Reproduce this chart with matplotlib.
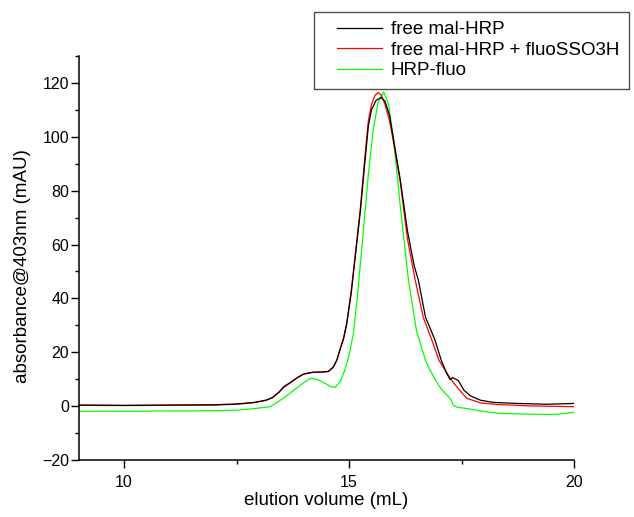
import matplotlib
matplotlib.use("Agg")
import matplotlib.pyplot as plt
from matplotlib.lines import Line2D
from matplotlib.legend_handler import HandlerLine2D
from matplotlib.ticker import MultipleLocator

plt.rcParams['font.family'] = ['Liberation Sans', 'DejaVu Sans']

# free mal-HRP (black)
x_black = [9.0, 10.0, 11.0, 12.0, 12.5, 12.9, 13.15, 13.3, 13.45, 13.55, 13.7, 13.85, 14.0, 14.2,
           14.4, 14.54, 14.65, 14.73, 14.8, 14.88, 14.95, 15.05, 15.15, 15.25, 15.35, 15.43, 15.5,
           15.6, 15.71, 15.8, 15.9, 16.0, 16.14, 16.3, 16.45, 16.54, 16.7, 16.91, 17.05, 17.17,
           17.25, 17.3, 17.36, 17.43, 17.55, 17.7, 17.92, 18.2, 18.73, 19.4, 20.0]
y_black = [0.4, 0.3, 0.4, 0.5, 0.8, 1.4, 2.2, 3.2, 5.3, 7.2, 8.8, 10.6, 12.0, 12.6,
           12.7, 12.9, 14.5, 17.1, 21.0, 25.0, 30.5, 42.0, 57.0, 72.0, 90.0, 104.0, 110.0,
           113.5, 114.6, 113.2, 108.0, 98.0, 84.0, 65.0, 52.0, 46.9, 33.0, 24.6, 17.0, 12.2,
           9.8, 10.6, 10.1, 9.5, 6.0, 3.8, 2.2, 1.4, 1.0, 0.7, 1.0]

# free mal-HRP + fluoSSO3H (red)
x_red = [9.0, 10.0, 11.0, 12.0, 12.5, 12.9, 13.15, 13.3, 13.45, 13.55, 13.7, 13.85, 14.0, 14.2,
         14.4, 14.54, 14.65, 14.73, 14.8, 14.88, 14.95, 15.05, 15.15, 15.25, 15.35, 15.43, 15.5,
         15.58, 15.65, 15.72, 15.8, 15.9, 16.0, 16.14, 16.3, 16.47, 16.65, 16.84, 17.0, 17.25,
         17.45, 17.62, 17.92, 18.3, 19.0, 20.0]
y_red = [0.3, 0.2, 0.3, 0.4, 0.7, 1.3, 2.1, 3.1, 5.2, 7.0, 8.7, 10.5, 11.9, 12.5,
         12.6, 12.8, 14.4, 17.0, 21.0, 25.5, 31.0, 43.0, 58.0, 73.0, 92.0, 106.0, 112.0,
         115.5, 116.4, 115.5, 112.0, 106.0, 97.0, 83.0, 62.0, 46.9, 33.0, 24.6, 17.0, 10.3,
         6.0, 2.9, 1.2, 0.6, 0.1, -0.2]

# HRP-fluo (green)
x_green = [9.0, 10.0, 11.0, 12.0, 12.5, 12.9, 13.25, 13.54, 13.8, 14.0, 14.14, 14.3, 14.45, 14.6,
           14.69, 14.8, 14.9, 14.99, 15.1, 15.2, 15.32, 15.43, 15.54, 15.65, 15.77, 15.88, 15.99,
           16.14, 16.32, 16.5, 16.7, 16.8, 17.0, 17.15, 17.25, 17.32, 17.4, 17.62, 18.0, 18.36,
           19.0, 19.6, 20.0]
y_green = [-1.9, -1.9, -1.8, -1.7, -1.5, -0.9, -0.2, 2.9, 6.2, 8.8, 10.3, 9.9, 8.6, 7.2,
           7.0, 9.0, 13.0, 18.0, 27.1, 43.0, 65.5, 86.0, 102.8, 113.0, 116.7, 112.0, 99.0,
           74.2, 46.9, 28.0, 17.0, 13.4, 7.5, 4.5, 2.9, 0.3, -0.4, -0.9, -2.0, -2.7,
           -3.0, -3.1, -2.3]

labels = ["free mal-HRP", "free mal-HRP + fluoSSO3H", "HRP-fluo"]

fig = plt.figure(figsize=(6.34, 5.17), dpi=100)
ax = fig.add_axes([79/634, 57/517, 495/634, 404/517])

ax.plot(x_green, y_green, color="#00ff00", lw=0.9, label=labels[2])
ax.plot(x_red, y_red, color="#ff0000", lw=0.9, label=labels[1])
ax.plot(x_black, y_black, color="black", lw=0.9, label=labels[0])

ax.set_xlim(9, 20)
ax.set_ylim(-20, 130)
ax.xaxis.set_major_locator(MultipleLocator(5))
ax.xaxis.set_minor_locator(MultipleLocator(2.5))
ax.yaxis.set_major_locator(MultipleLocator(20))
ax.yaxis.set_minor_locator(MultipleLocator(10))

for s in ["top", "right"]:
    ax.spines[s].set_visible(False)
for s in ["left", "bottom"]:
    ax.spines[s].set_linewidth(1.1)

ax.tick_params(which="major", direction="out", length=5.5, width=1.0, labelsize=11.5)
ax.tick_params(which="minor", direction="out", length=3.0, width=1.0)
ax.tick_params(axis="y", pad=1.5)
ax.tick_params(axis="x", pad=5.5)

ax.set_xlabel("elution volume (mL)", fontsize=13.5)
ax.set_ylabel("absorbance@403nm (mAU)", fontsize=13.5)
ax.xaxis.set_label_coords(0.5, -0.078)
ax.yaxis.set_label_coords(-0.097, 0.48)

h, l = ax.get_legend_handles_labels()
order = [2, 1, 0]
leg = fig.legend([h[i] for i in order], [l[i] for i in order],
                 loc="upper left", bbox_to_anchor=(314/634, 1 - 12/517),
                 borderaxespad=0, fontsize=13.5, frameon=True, fancybox=False,
                 edgecolor="#222222", borderpad=0.5, labelspacing=0.17,
                 handlelength=3.15, handletextpad=0.45,
                 handler_map={Line2D: HandlerLine2D(xpad=0.75)})
leg.get_frame().set_linewidth(1.0)

fig.savefig("out.png", dpi=100)
